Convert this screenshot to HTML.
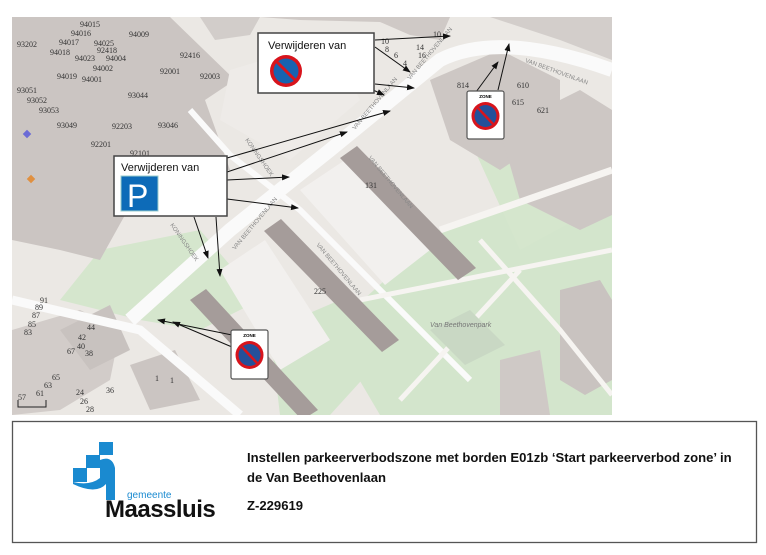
<!DOCTYPE html>
<html><head><meta charset="utf-8"><style>
html,body{margin:0;padding:0;background:#fff;width:766px;height:555px;overflow:hidden}
svg{display:block}
</style></head><body>
<svg width="766" height="555" viewBox="0 0 766 555" xmlns="http://www.w3.org/2000/svg" font-family="Liberation Sans, sans-serif">
<defs>
<clipPath id="mc"><rect x="12" y="17" width="600" height="398"/></clipPath>
<marker id="ah" markerWidth="8" markerHeight="8" refX="7" refY="4" orient="auto" markerUnits="userSpaceOnUse"><path d="M0,1 L8,4 L0,7 Z" fill="#111"/></marker>
</defs>
<g clip-path="url(#mc)">
<rect x="12" y="17" width="600" height="398" fill="#ebe8e4"/>
<polygon points="440,230 612,160 612,415 380,415 330,330" fill="#d3e5cc"/>
<polygon points="100,250 200,230 260,300 200,330 140,320 60,300" fill="#d5e6cd"/>
<polygon points="470,140 540,100 612,120 612,200 520,250" fill="#d5e6cd"/>
<polygon points="270,330 340,300 380,360 330,415 280,415" fill="#d3e5cc"/>
<polygon points="12,17 170,17 235,80 205,100 230,170 175,175 125,215 100,260 60,250 12,240" fill="#cbc5c2"/>
<polygon points="200,17 260,17 250,35 215,40" fill="#d2cdca"/>
<polygon points="260,17 450,17 440,40 410,35 380,22 300,20" fill="#cfc9c6"/>
<polygon points="490,17 612,17 612,60 560,40" fill="#d3cecb"/>
<polygon points="430,80 500,50 560,80 560,130 500,170 450,140" fill="#cdc7c4"/>
<polygon points="500,130 580,90 612,110 612,215 580,230 520,200" fill="#cdc7c4"/>
<polygon points="560,290 600,280 612,300 612,380 585,395 560,380" fill="#c9c3c0"/>
<polygon points="500,360 540,350 550,415 500,415" fill="#cfc9c6"/>
<polygon points="12,330 80,310 120,330 110,380 60,410 12,415" fill="#d2ccc9"/>
<polygon points="60,330 110,305 130,350 90,370" fill="#c8c2bf"/>
<polygon points="130,365 175,350 200,400 150,410" fill="#cbc5c2"/>
<path d="M130,320 L230,230 L330,150 L440,60 Q500,30 612,70" stroke="#fafafa" stroke-width="14" fill="none"/>
<path d="M12,300 L140,330 L240,415" stroke="#fafafa" stroke-width="9" fill="none"/>
<path d="M190,110 L230,155 L300,210 L390,300 L470,380" stroke="#fafafa" stroke-width="6" fill="none"/>
<path d="M440,230 L612,170" stroke="#f6f4f1" stroke-width="7" fill="none"/>
<path d="M360,300 L612,250" stroke="#f6f4f1" stroke-width="5" fill="none"/>
<path d="M480,240 L560,330 L612,395" stroke="#f6f4f1" stroke-width="5" fill="none"/>
<path d="M400,400 L520,270" stroke="#f6f4f1" stroke-width="5" fill="none"/>
<polygon points="230,70 330,40 360,100 290,160 220,120" fill="#eeebe8"/>
<polygon points="300,190 345,160 430,250 385,285" fill="#f2f0ee"/>
<polygon points="220,270 265,240 330,340 280,370" fill="#f2f0ee"/>
<polygon points="340,158 357,146 476,268 458,280" fill="#a59c9a"/>
<polygon points="264,231 281,219 399,340 382,352" fill="#a59c9a"/>
<polygon points="190,300 206,289 318,410 302,420" fill="#a59c9a"/>
<polygon points="430,330 470,310 505,345 465,365" fill="#c9d8c4"/>
<text x="430" y="327" font-size="7" fill="#777" font-style="italic">Van Beethovenpark</text>
<g font-family="Liberation Serif, serif" font-size="8" fill="#333">
<text x="80" y="27">94015</text><text x="71" y="36">94016</text><text x="129" y="37">94009</text>
<text x="17" y="47">93202</text><text x="59" y="45">94017</text><text x="94" y="46">94025</text>
<text x="50" y="55">94018</text><text x="97" y="53">92418</text><text x="75" y="61">94023</text><text x="106" y="61">94004</text>
<text x="180" y="58">92416</text><text x="93" y="71">94002</text><text x="57" y="79">94019</text><text x="82" y="82">94001</text>
<text x="160" y="74">92001</text><text x="200" y="79">92003</text><text x="17" y="93">93051</text><text x="128" y="98">93044</text>
<text x="27" y="103">93052</text><text x="39" y="113">93053</text><text x="57" y="128">93049</text><text x="112" y="129">92203</text>
<text x="158" y="128">93046</text><text x="91" y="147">92201</text><text x="130" y="156">92101</text>
<text x="365" y="188">131</text><text x="314" y="294">225</text><text x="457" y="88">814</text>
<text x="517" y="88">610</text><text x="512" y="105">615</text><text x="537" y="113">621</text>
<text x="35" y="310">89</text><text x="40" y="303">91</text><text x="32" y="318">87</text><text x="28" y="327">85</text><text x="24" y="335">83</text>
<text x="87" y="330">44</text><text x="78" y="340">42</text><text x="77" y="349">40</text><text x="67" y="354">67</text><text x="85" y="356">38</text>
<text x="52" y="380">65</text><text x="44" y="388">63</text><text x="36" y="396">61</text><text x="18" y="400">57</text>
<text x="76" y="395">24</text><text x="80" y="404">26</text><text x="86" y="412">28</text><text x="106" y="393">36</text>
<text x="155" y="381">1</text><text x="170" y="383">1</text>
<text x="381" y="44">10</text><text x="385" y="52">8</text><text x="394" y="58">6</text><text x="403" y="66">4</text>
<text x="433" y="37">10</text><text x="416" y="50">14</text><text x="418" y="58">16</text><text x="371" y="83">1</text>
</g>
<g font-size="6" fill="#888">
<text transform="translate(410,80) rotate(-50)">VAN BEETHOVENLAAN</text>
<text transform="translate(355,130) rotate(-50)">VAN BEETHOVENLAAN</text>
<text transform="translate(235,250) rotate(-50)">VAN BEETHOVENLAAN</text>
<text transform="translate(368,158) rotate(50)">VAN BEETHOVENLAAN</text>
<text transform="translate(316,245) rotate(50)">VAN BEETHOVENLAAN</text>
<text transform="translate(245,140) rotate(55)">KONINGSHOEK</text>
<text transform="translate(170,225) rotate(55)">KONINGSHOEK</text>
<text transform="translate(525,62) rotate(20)">VAN BEETHOVENLAAN</text>
</g>
<path d="M18,400 L18,407 L46,407 L46,400" stroke="#222" fill="none"/>
<rect x="24" y="131" width="6" height="6" fill="#6b6bd6" transform="rotate(45 27 134)"/>
<rect x="28" y="176" width="6" height="6" fill="#e09040" transform="rotate(45 31 179)"/>
</g>

<g stroke="#111" stroke-width="1" fill="none" marker-end="url(#ah)">
<line x1="227" y1="158" x2="390" y2="111"/>
<line x1="227" y1="172" x2="347" y2="132"/>
<line x1="227" y1="180" x2="289" y2="177"/>
<line x1="227" y1="199" x2="298" y2="208"/>
<line x1="194" y1="217" x2="208" y2="258"/>
<line x1="216" y1="217" x2="220" y2="276"/>
<line x1="375" y1="40" x2="450" y2="36"/>
<line x1="375" y1="47" x2="410" y2="72"/>
<line x1="375" y1="84" x2="414" y2="88"/>
<line x1="373" y1="90" x2="384" y2="95"/>
<line x1="476" y1="92" x2="498" y2="62"/>
<line x1="498" y1="90" x2="509" y2="44"/>
<line x1="232" y1="335" x2="158" y2="320"/>
<line x1="232" y1="347" x2="173" y2="322"/>
</g>

<rect x="258" y="33" width="116" height="60" fill="#fff" stroke="#444" stroke-width="1.5"/>
<text x="268" y="49" font-size="11" fill="#111">Verwijderen van</text>
<circle cx="286" cy="71" r="16" fill="#d8141c"/><circle cx="286" cy="71" r="12.5" fill="#1763b0"/>
<line x1="277" y1="62" x2="295" y2="80" stroke="#d8141c" stroke-width="3"/>
<rect x="114" y="156" width="113" height="60" fill="#fff" stroke="#444" stroke-width="1.5"/>
<text x="121" y="171" font-size="11" fill="#111">Verwijderen van</text>
<rect x="121" y="176" width="37" height="35" fill="#0d6bb8" stroke="#9cc" stroke-width="1"/>
<text x="127" y="207" font-size="32" fill="#fff">P</text>
<g transform="translate(467,91)">
<rect x="0" y="0" width="37" height="48" rx="2" fill="#fff" stroke="#555" stroke-width="1.2"/>
<text x="18.5" y="7" font-size="4.5" font-weight="bold" text-anchor="middle">ZONE</text>
<circle cx="18.5" cy="25" r="14" fill="#d8141c"/><circle cx="18.5" cy="25" r="11" fill="#24509a"/>
<line x1="11" y1="17" x2="26" y2="33" stroke="#d8141c" stroke-width="2.5"/>
</g>
<g transform="translate(231,330)">
<rect x="0" y="0" width="37" height="49" rx="2" fill="#fff" stroke="#555" stroke-width="1.2"/>
<text x="18.5" y="7" font-size="4.5" font-weight="bold" text-anchor="middle">ZONE</text>
<circle cx="18.5" cy="25" r="14" fill="#d8141c"/><circle cx="18.5" cy="25" r="11" fill="#24509a"/>
<line x1="11" y1="17" x2="26" y2="33" stroke="#d8141c" stroke-width="2.5"/>
</g>

<rect x="12.5" y="421.5" width="744" height="121" fill="#fff" stroke="#555" stroke-width="1.3"/>
<g fill="#1a8ad0">
<rect x="99" y="442" width="14" height="13"/>
<rect x="86" y="455" width="14" height="13"/>
<rect x="73" y="468" width="14" height="14"/>
<path d="M100,460 Q112,455 115,468 L115,500 L106,500 L106,484 Q96,495 73,484 L73,482 Q90,486 100,478 Z"/>
</g>
<text x="127" y="498" font-size="10" fill="#1a8ad0">gemeente</text>
<text x="105" y="517" font-size="24" font-weight="bold" fill="#111" letter-spacing="-0.5">Maassluis</text>
<g font-size="13.1" font-weight="bold" fill="#111">
<text x="247" y="462">Instellen parkeerverbodszone met borden E01zb ‘Start parkeerverbod zone’ in</text>
<text x="247" y="482">de Van Beethovenlaan</text>
<text x="247" y="510">Z-229619</text>
</g>
</svg>
</body></html>
